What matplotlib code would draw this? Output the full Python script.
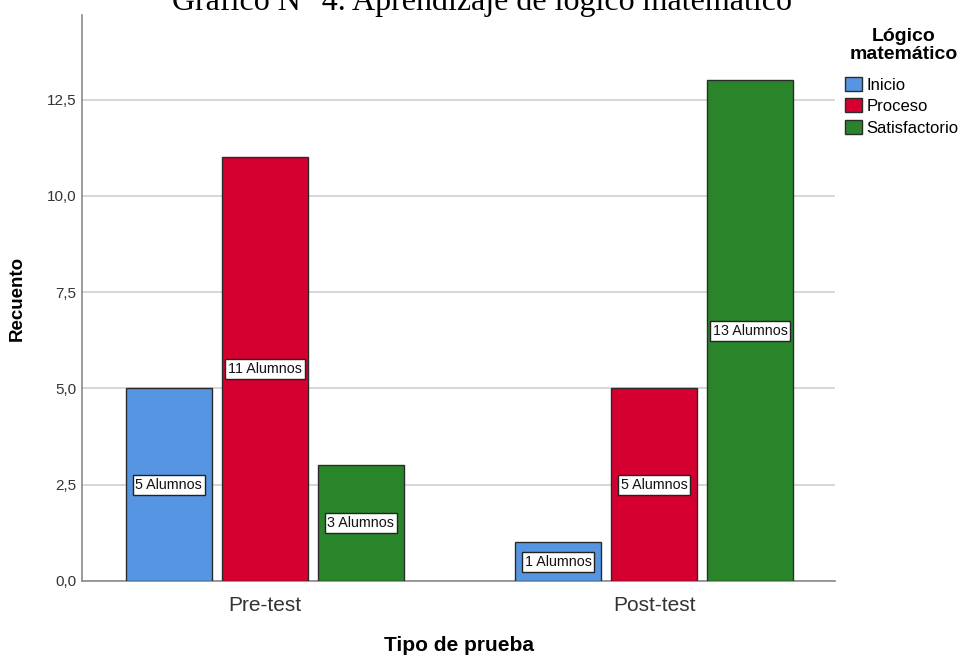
import numpy as np
import matplotlib
matplotlib.use("Agg")
import matplotlib.pyplot as plt
from matplotlib.patches import Patch

# Datos
TIPOS = ["Pre-test", "Post-test"]
NIVELES = ["Inicio", "Proceso", "Satisfactorio"]
INICIO = [5, 1]
PROCESO = [11, 5]
SATISFACTORIO = [3, 13]
Y_TICKS = [0, 2.5, 5, 7.5, 10, 12.5]

COLORES = ["#5595E1", "#D5002F", "#2A852A"]

plt.rcParams["font.family"] = ["Liberation Sans", "DejaVu Sans"]

fig = plt.figure(figsize=(9.64, 6.55), dpi=100)
ax = fig.add_axes([82 / 964, 1 - 581 / 655, (835 - 82) / 964, (581 - 15) / 655])

x = np.arange(len(TIPOS))
paso = 96 / 389
ancho = 86 / 389

for i, (vals, color) in enumerate(zip([INICIO, PROCESO, SATISFACTORIO], COLORES)):
    pos = x + (i - 1) * paso
    ax.bar(pos, vals, width=ancho, color=color, edgecolor="#2b2b2b", linewidth=1.0, zorder=3)
    for xp, v in zip(pos, vals):
        ax.text(xp, v / 2, f"{v} Alumnos", ha="center", va="center", fontsize=10.3,
                color="#111111", zorder=4,
                bbox=dict(boxstyle="square,pad=0.2", facecolor="white", edgecolor="#222222", linewidth=1.0))

ax.set_xlim(-0.470, 1.465)
ax.set_ylim(0, 14.7)
ax.set_yticks(Y_TICKS)
ax.set_yticklabels([f"{t:.1f}".replace(".", ",") for t in Y_TICKS])
ax.set_xticks(x)
ax.set_xticklabels(TIPOS)
ax.tick_params(axis="y", length=0, pad=4, labelsize=11, labelcolor="#333333")
ax.tick_params(axis="x", length=0, pad=11, labelsize=15, labelcolor="#333333")
ax.yaxis.grid(True, color="#cfcfcf", linewidth=1.2, zorder=0)
ax.set_axisbelow(True)
for s in ["top", "right"]:
    ax.spines[s].set_visible(False)
for s in ["left", "bottom"]:
    ax.spines[s].set_color("#8a8a8a")
    ax.spines[s].set_linewidth(1.2)

ax.set_ylabel("Recuento", fontsize=13.5, fontweight="bold", labelpad=15)
ax.set_xlabel("Tipo de prueba", fontsize=15, fontweight="bold", labelpad=15)

fig.text(0.5, 1 - 10 / 655, "Gráfico N° 4. Aprendizaje de lógico matemático",
         ha="center", va="baseline", fontsize=23, family="Liberation Serif")

# leyenda: título aparte y entradas debajo
fig.text(904 / 964, 1 - 28 / 655, "Lógico\nmatemático", ha="center", va="top",
         fontsize=14, fontweight="bold", linespacing=1.05)
handles = [Patch(facecolor=c, edgecolor="#2b2b2b", linewidth=1.0) for c in COLORES]
fig.legend(handles, NIVELES, loc="upper left", bbox_to_anchor=(845 / 964, 1 - 77 / 655),
           frameon=False, fontsize=12, handlelength=1.0, handleheight=0.9,
           handletextpad=0.3, labelspacing=0.35, borderaxespad=0, borderpad=0)

fig.savefig("out.png", dpi=100)
